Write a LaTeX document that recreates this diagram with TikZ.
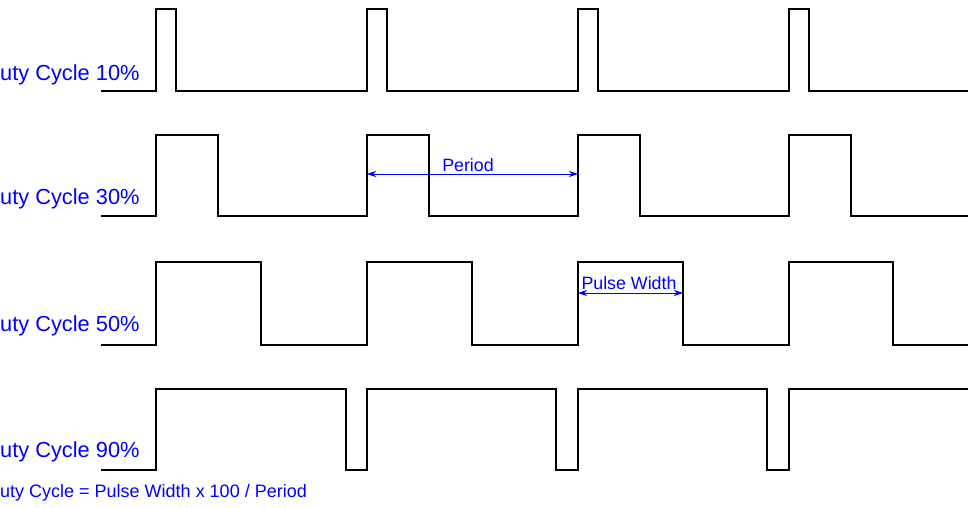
\documentclass[tikz,border=0pt]{standalone}
\usepackage{fontspec}
\setmainfont{Liberation Sans}
\usetikzlibrary{arrows.meta}
\begin{document}
\begin{tikzpicture}[x=1pt,y=-1pt,
  sig/.style={line width=1.6pt,black,line join=miter},
  lbl/.style={anchor=west,inner sep=0pt,text=blue,font=\fontsize{21.8}{24}\selectfont},
  dim/.style={blue,line width=0.7pt,{Stealth[length=9pt,width=6pt]}-{Stealth[length=9pt,width=6pt]}},
  dimlbl/.style={text=blue,inner sep=1pt,font=\fontsize{17.8}{20}\selectfont}]
\useasboundingbox (0,0) rectangle (968,508);
% row 1
\draw[sig] (101,91) -- (156,91) -- (156,9) -- (176,9) -- (176,91) -- (367,91) -- (367,9) -- (387,9) -- (387,91) -- (578,91) -- (578,9) -- (598,9) -- (598,91) -- (789,91) -- (789,9) -- (809,9) -- (809,91) -- (968,91);
\node[lbl] (l1) at (0,75) {uty Cycle 10\%};
% row 2
\draw[sig] (101,216) -- (156,216) -- (156,135) -- (218,135) -- (218,216) -- (367,216) -- (367,135) -- (429,135) -- (429,216) -- (578,216) -- (578,135) -- (640,135) -- (640,216) -- (789,216) -- (789,135) -- (851,135) -- (851,216) -- (968,216);
\node[lbl] (l2) at (0,199) {uty Cycle 30\%};
\coordinate (p1) at (367,174); \coordinate (p2) at (578,174);
\draw[dim] (p1) -- (p2);
\node[dimlbl] (pl) at (468,165) {Period};
% row 3
\draw[sig] (101,345) -- (156,345) -- (156,262) -- (261,262) -- (261,345) -- (367,345) -- (367,262) -- (472,262) -- (472,345) -- (578,345) -- (578,262) -- (683,262) -- (683,345) -- (789,345) -- (789,262) -- (893,262) -- (893,345) -- (968,345);
\node[lbl] (l3) at (0,326) {uty Cycle 50\%};
\coordinate (w1) at (578,293); \coordinate (w2) at (683,293);
\draw[dim] (w1) -- (w2);
\node[dimlbl] (wl) at (629,283) {Pulse Width};
% row 4
\draw[sig] (101,470) -- (156,470) -- (156,389) -- (346,389) -- (346,470) -- (367,470) -- (367,389) -- (556,389) -- (556,470) -- (578,470) -- (578,389) -- (767,389) -- (767,470) -- (789,470) -- (789,389) -- (968,389);
\node[lbl] (l4) at (0,452) {uty Cycle 90\%};
\node[lbl,font=\fontsize{18}{20}\selectfont] (f) at (0,493) {uty Cycle = Pulse Width x 100 / Period};
\end{tikzpicture}
\end{document}
